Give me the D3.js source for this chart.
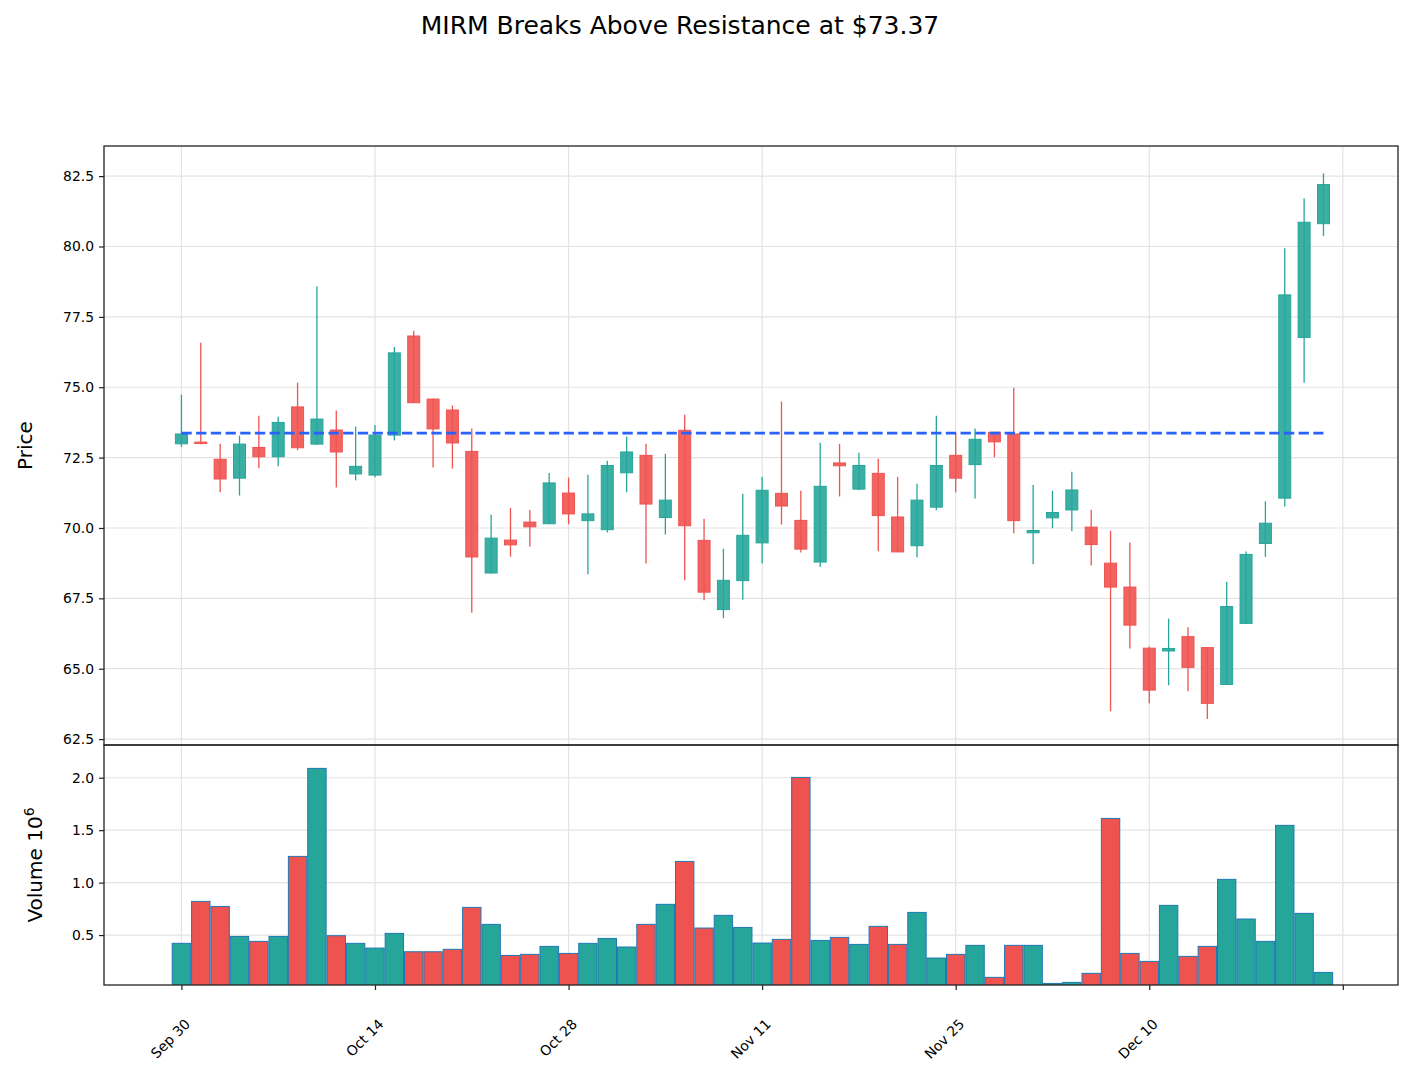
<!DOCTYPE html>
<html>
<head>
<meta charset="utf-8">
<script src="https://cdn.jsdelivr.net/npm/d3@7"></script>
<style>
body { margin: 0; background: #fff; }
text { font-family: "DejaVu Sans", sans-serif; }
</style>
</head>
<body>
<div id="chart"></div>
<script>
// trading days, Sep 30 to Dec 23 2024
var dates = ["2024-09-30","2024-10-01","2024-10-02","2024-10-03","2024-10-04","2024-10-07","2024-10-08","2024-10-09","2024-10-10","2024-10-11",
  "2024-10-14","2024-10-15","2024-10-16","2024-10-17","2024-10-18","2024-10-21","2024-10-22","2024-10-23","2024-10-24","2024-10-25",
  "2024-10-28","2024-10-29","2024-10-30","2024-10-31","2024-11-01","2024-11-04","2024-11-05","2024-11-06","2024-11-07","2024-11-08",
  "2024-11-11","2024-11-12","2024-11-13","2024-11-14","2024-11-15","2024-11-18","2024-11-19","2024-11-20","2024-11-21","2024-11-22",
  "2024-11-25","2024-11-26","2024-11-27","2024-11-29","2024-12-02","2024-12-03","2024-12-04","2024-12-05","2024-12-06","2024-12-09",
  "2024-12-10","2024-12-11","2024-12-12","2024-12-13","2024-12-16","2024-12-17","2024-12-18","2024-12-19","2024-12-20","2024-12-23"];

var opens = [72.99,73.05,72.44,71.77,72.86,72.53,74.30,72.98,73.48,71.92,
  71.88,73.30,76.82,74.58,74.19,72.72,68.40,69.57,70.21,70.15,
  71.24,70.26,69.94,71.96,72.58,70.37,73.47,69.56,67.10,68.13,
  69.47,71.23,70.27,68.79,72.31,71.38,71.94,70.39,69.37,70.74,
  72.58,72.25,73.40,73.34,69.83,70.36,70.64,70.03,68.75,67.90,
  65.73,65.63,66.14,65.75,64.44,66.61,69.45,71.06,76.77,80.81];
var highs = [74.73,76.58,72.99,73.28,73.99,73.95,75.16,78.58,74.17,73.60,
  73.66,76.43,77.01,74.60,74.35,73.53,70.47,70.71,70.64,71.95,
  71.79,71.89,72.39,73.24,72.99,72.64,74.02,70.33,69.26,71.22,
  71.82,74.49,71.32,73.03,72.99,72.67,72.46,71.82,71.57,73.99,
  73.37,73.53,73.42,74.98,71.53,71.32,72.00,70.65,69.90,69.48,
  65.79,66.78,66.47,65.76,68.09,69.16,70.95,79.94,81.71,82.60];
var lows = [72.88,72.97,71.27,71.15,72.12,72.19,72.76,72.96,71.44,71.69,
  71.80,73.11,74.44,72.15,72.11,66.99,68.38,68.98,69.34,70.14,
  70.13,68.36,69.84,71.27,68.74,69.77,68.14,67.43,66.79,67.45,
  68.74,70.12,69.13,68.61,71.12,71.34,69.17,69.14,68.96,70.63,
  71.27,71.05,72.51,69.81,68.71,69.99,69.88,68.67,63.49,65.72,
  63.77,64.41,64.20,63.21,64.43,66.60,68.97,70.76,75.16,80.37];
var closes = [73.34,73.00,71.74,72.98,72.53,73.75,72.85,73.87,72.70,72.19,
  73.30,76.22,74.45,73.52,73.02,68.97,69.64,69.40,70.04,71.60,
  70.50,70.50,72.22,72.70,70.85,70.99,70.08,67.72,68.14,69.74,
  71.34,70.78,69.25,71.48,72.21,72.22,70.44,69.15,70.99,72.22,
  71.77,73.15,73.06,70.26,69.91,70.55,71.35,69.41,67.90,66.55,
  64.24,65.72,65.05,63.77,67.21,69.06,70.17,78.28,80.86,82.20];
var volumes = [421000,821000,773000,487000,440000,487000,1250000,2089000,494000,421000,
  376000,516000,341000,341000,364000,764000,602000,306000,316000,392000,
  325000,421000,468000,386000,602000,793000,1202000,567000,688000,573000,
  424000,459000,2003000,449000,478000,411000,583000,411000,716000,281000,
  316000,402000,97000,402000,402000,39000,49000,135000,1612000,325000,
  249000,783000,297000,392000,1031000,653000,440000,1546000,707000,144000];

var resistance = 73.37;
var priceTicks = [62.5, 65.0, 67.5, 70.0, 72.5, 75.0, 77.5, 80.0, 82.5];
var volumeTicks = [500000, 1000000, 1500000, 2000000];
var dateTicks = [0, 10, 20, 30, 40, 50, 60];
var title = "MIRM Breaks Above Resistance at $73.37";

var W = 1415, H = 1082;
var left = 104, right = 1398;
var pTop = 146, pBot = 745, vTop = 745, vBot = 985;
var up = "#26a69a", down = "#ef5350";

var svg = d3.select("#chart").append("svg")
  .attr("width", W).attr("height", H);

var x = d3.scaleLinear().domain([-4.0, 62.85]).range([left, right]);
var yP = d3.scaleLinear().domain([62.29, 83.57]).range([pBot, pTop]);
var yV = d3.scaleLinear().domain([24000, 2312000]).range([vBot, vTop]);

var parse = d3.timeParse("%Y-%m-%d");
var fmt = d3.timeFormat("%b %d");

var defs = svg.append("defs");
defs.append("clipPath").attr("id", "clipP").append("rect")
  .attr("x", left).attr("y", pTop).attr("width", right - left).attr("height", pBot - pTop);
defs.append("clipPath").attr("id", "clipV").append("rect")
  .attr("x", left).attr("y", vTop).attr("width", right - left).attr("height", vBot - vTop);

// grid
var grid = svg.append("g").attr("stroke", "#e3e3e3").attr("stroke-width", 1.2);
dateTicks.forEach(function(t) {
  grid.append("line").attr("x1", x(t)).attr("x2", x(t)).attr("y1", pTop).attr("y2", vBot);
});
priceTicks.forEach(function(t) {
  grid.append("line").attr("x1", left).attr("x2", right).attr("y1", yP(t)).attr("y2", yP(t));
});
volumeTicks.forEach(function(t) {
  grid.append("line").attr("x1", left).attr("x2", right).attr("y1", yV(t)).attr("y2", yV(t));
});

var idx = d3.range(dates.length);
function col(i) { return closes[i] >= opens[i] ? up : down; }

// candles
var pg = svg.append("g").attr("clip-path", "url(#clipP)");
var step = x(1) - x(0);
var bw = step * 0.62;

pg.selectAll("line.wick").data(idx).enter().append("line")
  .attr("class", "wick")
  .attr("x1", function(i) { return x(i); })
  .attr("x2", function(i) { return x(i); })
  .attr("y1", function(i) { return yP(highs[i]); })
  .attr("y2", function(i) { return yP(lows[i]); })
  .attr("stroke", col)
  .attr("stroke-width", 1.3);

pg.selectAll("rect.body").data(idx).enter().append("rect")
  .attr("class", "body")
  .attr("x", function(i) { return x(i) - bw / 2; })
  .attr("y", function(i) { return yP(Math.max(opens[i], closes[i])); })
  .attr("width", bw)
  .attr("height", function(i) { return Math.max(1, Math.abs(yP(opens[i]) - yP(closes[i]))); })
  .attr("fill", col)
  .attr("fill-opacity", 0.9)
  .attr("stroke", col)
  .attr("stroke-width", 1);

// resistance line
pg.append("line")
  .attr("x1", x(0)).attr("x2", x(dates.length - 1))
  .attr("y1", yP(resistance)).attr("y2", yP(resistance))
  .attr("stroke", "#2962ff")
  .attr("stroke-width", 2.6)
  .attr("stroke-dasharray", "10.3,4.4");

// volume
var vg = svg.append("g").attr("clip-path", "url(#clipV)");
var vw = step * 0.95;
vg.selectAll("rect").data(idx).enter().append("rect")
  .attr("x", function(i) { return x(i) - vw / 2; })
  .attr("y", function(i) { return yV(volumes[i]); })
  .attr("width", vw)
  .attr("height", function(i) { return vBot - yV(volumes[i]) + 2; })
  .attr("fill", col)
  .attr("stroke", "#1f77b4")
  .attr("stroke-width", 1);

// axes
var axP = svg.append("g").attr("transform", "translate(" + left + ",0)")
  .call(d3.axisLeft(yP).tickValues(priceTicks).tickFormat(d3.format(".1f")).tickSize(5).tickPadding(5));
var axV = svg.append("g").attr("transform", "translate(" + left + ",0)")
  .call(d3.axisLeft(yV).tickValues(volumeTicks).tickFormat(function(d) { return d3.format(".1f")(d / 1e6); }).tickSize(5).tickPadding(5));
var axX = svg.append("g").attr("transform", "translate(0," + vBot + ")")
  .call(d3.axisBottom(x).tickValues(dateTicks).tickSize(5).tickPadding(5)
    .tickFormat(function(i) { return i < dates.length ? fmt(parse(dates[i])) : ""; }));

[axP, axV, axX].forEach(function(a) {
  a.select(".domain").remove();
  a.selectAll(".tick line").attr("stroke", "#222").attr("stroke-width", 1.2);
  a.selectAll(".tick text").attr("font-size", "13.9px").attr("fill", "#000")
    .attr("font-family", "DejaVu Sans, sans-serif");
});

axX.selectAll(".tick text")
  .attr("text-anchor", "end")
  .attr("dy", null)
  .attr("y", 0)
  .attr("transform", "translate(9,40) rotate(-45)");

// frames
svg.append("rect").attr("x", left).attr("y", pTop).attr("width", right - left).attr("height", pBot - pTop)
  .attr("fill", "none").attr("stroke", "#222").attr("stroke-width", 1.3);
svg.append("rect").attr("x", left).attr("y", vTop).attr("width", right - left).attr("height", vBot - vTop)
  .attr("fill", "none").attr("stroke", "#222").attr("stroke-width", 1.3);

// labels
svg.append("text").attr("x", 680).attr("y", 27).attr("text-anchor", "middle")
  .attr("dominant-baseline", "middle").attr("font-size", "25px").text(title);

svg.append("text").attr("transform", "translate(32," + ((pTop + pBot) / 2) + ") rotate(-90)")
  .attr("text-anchor", "middle").attr("font-size", "20px").text("Price");

var vl = svg.append("text").attr("transform", "translate(42," + ((vTop + vBot) / 2) + ") rotate(-90)")
  .attr("text-anchor", "middle").attr("font-size", "20px");
vl.append("tspan").text("Volume  10");
vl.append("tspan").attr("dy", -8).attr("font-size", "14px").text("6");
</script>
</body>
</html>
